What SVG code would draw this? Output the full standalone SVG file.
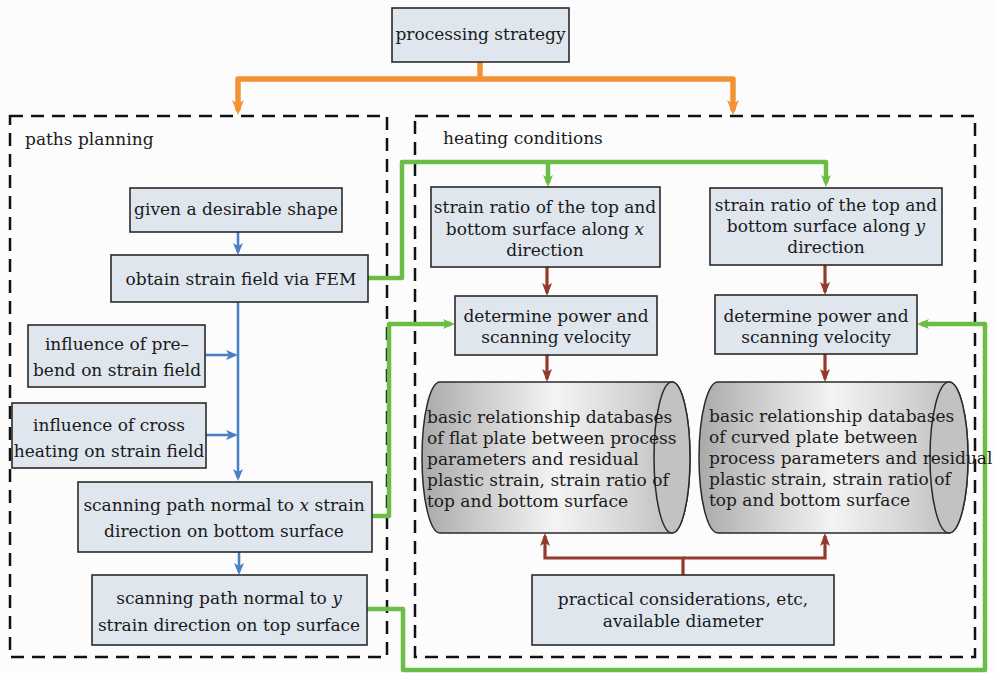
<svg xmlns="http://www.w3.org/2000/svg" width="995" height="673" viewBox="0 0 995 673">
<style>
text{font-family:"DejaVu Serif","Liberation Serif",serif;font-size:17px;fill:#1a1a1a}
.c{text-anchor:middle}
.box{fill:#dfe6ee;stroke:#2a2a2a;stroke-width:1.6}
.grp{fill:none;stroke:#111;stroke-width:2.5;stroke-dasharray:13 8}
.or{fill:none;stroke:#f39232;stroke-width:5.5;stroke-linejoin:round;stroke-linecap:round}
.gr{fill:none;stroke:#6bbd45;stroke-width:4.5;stroke-linejoin:round}
.bl{fill:none;stroke:#4b7fc6;stroke-width:2.6}
.br{fill:none;stroke:#95392b;stroke-width:3.2}
.cyl{fill:url(#gcyl);stroke:#2a2a2a;stroke-width:1.5}
.cap{fill:#c2c2c2;stroke:#2a2a2a;stroke-width:1.5}
</style>
<defs>
<linearGradient id="gcyl" x1="0" y1="0" x2="1" y2="0">
<stop offset="0" stop-color="#a9a9a9"/>
<stop offset="0.2" stop-color="#c9c9c9"/>
<stop offset="0.5" stop-color="#f4f4f4"/>
<stop offset="0.8" stop-color="#d2d2d2"/>
<stop offset="1" stop-color="#b4b4b4"/>
</linearGradient>
<marker id="aO" markerUnits="userSpaceOnUse" markerWidth="16" markerHeight="13" refX="9" refY="6" orient="auto"><path d="M0,0 L15,6 L0,12 L4,6 Z" fill="#f39232"/></marker>
<marker id="aG" markerUnits="userSpaceOnUse" markerWidth="13" markerHeight="11" refX="8" refY="5" orient="auto"><path d="M0,0 L12,5 L0,10 L3,5 Z" fill="#6bbd45"/></marker>
<marker id="aB" markerUnits="userSpaceOnUse" markerWidth="13" markerHeight="11" refX="9" refY="5" orient="auto"><path d="M0,0 L12,5 L0,10 L3,5 Z" fill="#4b7fc6"/></marker>
<marker id="aR" markerUnits="userSpaceOnUse" markerWidth="14" markerHeight="11" refX="10" refY="5" orient="auto"><path d="M0,0 L13,5 L0,10 L3,5 Z" fill="#95392b"/></marker>
</defs>
<rect width="995" height="673" fill="#fcfcfc"/>

<g id="group-paths-planning">
<rect class="grp" x="10" y="116" width="377" height="541"/>
<text x="25" y="145">paths planning</text>
</g>
<g id="group-heating-conditions">
<rect class="grp" x="415" y="116" width="560" height="541"/>
<text x="443" y="144">heating conditions</text>
</g>

<g id="connectors">
<path class="or" d="M480,62 V79 H238 V109" marker-end="url(#aO)"/>
<path class="or" d="M480,79 H733 V109" marker-end="url(#aO)"/>
<path class="gr" d="M368,278 H402 V162 H826 V183" marker-end="url(#aG)"/>
<path class="gr" d="M548,162 V183" marker-end="url(#aG)"/>
<path class="gr" d="M372,516 H389 V324 H451" marker-end="url(#aG)"/>
<path class="gr" d="M367,609 H403 V670 H985 V324 H921" marker-end="url(#aG)"/>
<path class="bl" d="M238,232 V252" marker-end="url(#aB)"/>
<path class="bl" d="M238,302 V478" marker-end="url(#aB)"/>
<path class="bl" d="M205,355 H235" marker-end="url(#aB)"/>
<path class="bl" d="M206,435 H235" marker-end="url(#aB)"/>
<path class="bl" d="M239,552 V572" marker-end="url(#aB)"/>
<path class="br" d="M547,267 V293" marker-end="url(#aR)"/>
<path class="br" d="M825,265 V292" marker-end="url(#aR)"/>
<path class="br" d="M547,355 V379" marker-end="url(#aR)"/>
<path class="br" d="M825,354 V379" marker-end="url(#aR)"/>
<path class="br" d="M683,575 V558 H545 V536" marker-end="url(#aR)"/>
<path class="br" d="M683,558 H825 V536" marker-end="url(#aR)"/>
</g>

<g id="processing-strategy">
<rect class="box" x="392" y="8" width="177" height="54"/>
<text class="c" x="480.5" y="40">processing strategy</text>
</g>
<g id="given-shape">
<rect class="box" x="130" y="188" width="212" height="44"/>
<text class="c" x="236" y="215">given a desirable shape</text>
</g>
<g id="obtain-strain-field">
<rect class="box" x="111" y="255" width="257" height="47"/>
<text class="c" x="241" y="285">obtain strain field via FEM</text>
</g>
<g id="pre-bend">
<rect class="box" x="28" y="325" width="177" height="62"/>
<text class="c" x="117" y="350">influence of pre–</text>
<text class="c" x="117" y="376">bend on strain field</text>
</g>
<g id="cross-heating">
<rect class="box" x="12" y="403" width="194" height="65"/>
<text class="c" x="109" y="431">influence of cross</text>
<text class="c" x="109" y="457">heating on strain field</text>
</g>
<g id="scan-x">
<rect class="box" x="78" y="482" width="294" height="70"/>
<text class="c" x="224" y="511">scanning path normal to <tspan font-style="italic">x</tspan> strain</text>
<text class="c" x="224" y="537">direction on bottom surface</text>
</g>
<g id="scan-y">
<rect class="box" x="92" y="575" width="275" height="70"/>
<text class="c" x="229" y="604">scanning path normal to <tspan font-style="italic">y</tspan></text>
<text class="c" x="229" y="631">strain direction on top surface</text>
</g>

<g id="strain-ratio-x">
<rect class="box" x="431" y="187" width="229" height="80"/>
<text class="c" x="545" y="213">strain ratio of the top and</text>
<text class="c" x="545" y="235">bottom surface along <tspan font-style="italic">x</tspan></text>
<text class="c" x="545" y="256">direction</text>
</g>
<g id="strain-ratio-y">
<rect class="box" x="710" y="188" width="232" height="77"/>
<text class="c" x="826" y="211">strain ratio of the top and</text>
<text class="c" x="826" y="232">bottom surface along <tspan font-style="italic">y</tspan></text>
<text class="c" x="826" y="253">direction</text>
</g>
<g id="power-velocity-x">
<rect class="box" x="455" y="296" width="202" height="59"/>
<text class="c" x="556" y="322">determine power and</text>
<text class="c" x="556" y="343">scanning velocity</text>
</g>
<g id="power-velocity-y">
<rect class="box" x="715" y="295" width="202" height="59"/>
<text class="c" x="816" y="322">determine power and</text>
<text class="c" x="816" y="343">scanning velocity</text>
</g>

<g id="db-flat">
<path class="cyl" d="M440,382 L672,382 A18,75.5 0 0 1 672,533 L440,533 A18,75.5 0 0 1 440,382 Z"/>
<path class="cap" d="M672,382 A18,75.5 0 0 1 672,533 A18,75.5 0 0 1 672,382 Z"/>
<text x="427" y="423">basic relationship databases</text>
<text x="427" y="444">of flat plate between process</text>
<text x="427" y="465">parameters and residual</text>
<text x="427" y="486">plastic strain, strain ratio of</text>
<text x="427" y="507">top and bottom surface</text>
</g>
<g id="db-curved">
<path class="cyl" d="M718,382 L949,382 A19,75.5 0 0 1 949,533 L718,533 A19,75.5 0 0 1 718,382 Z"/>
<path class="cap" d="M949,382 A19,75.5 0 0 1 949,533 A19,75.5 0 0 1 949,382 Z"/>
<text x="709" y="422">basic relationship databases</text>
<text x="709" y="443">of curved plate between</text>
<text x="709" y="464">process parameters and residual</text>
<text x="709" y="485">plastic strain, strain ratio of</text>
<text x="709" y="506">top and bottom surface</text>
</g>

<g id="practical">
<rect class="box" x="532" y="575" width="302" height="70"/>
<text class="c" x="683" y="605">practical considerations, etc,</text>
<text class="c" x="683" y="627">available diameter</text>
</g>
</svg>
